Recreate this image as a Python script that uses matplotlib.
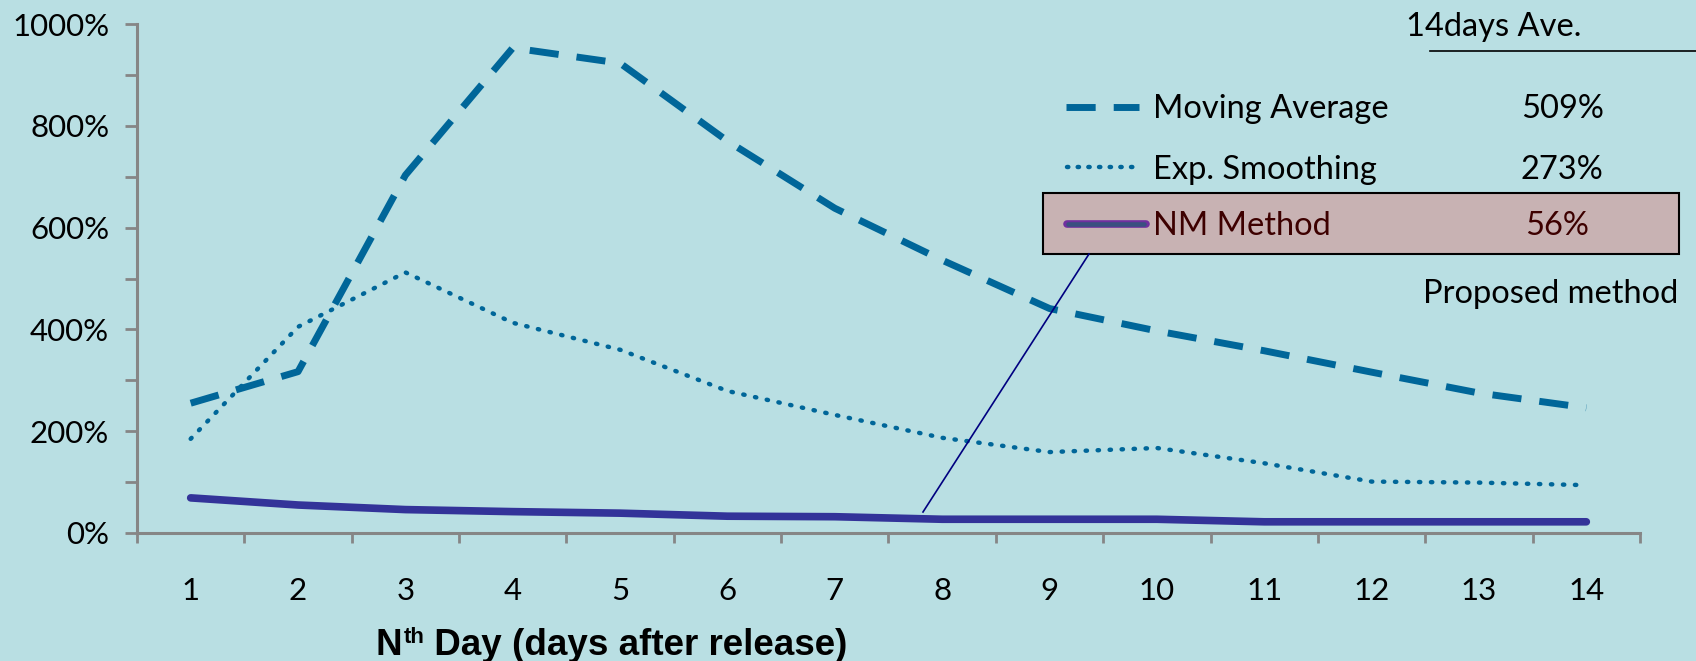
import matplotlib
matplotlib.use("Agg")
import matplotlib.pyplot as plt
from matplotlib.lines import Line2D
from matplotlib.patches import Rectangle
from matplotlib.ticker import FixedLocator, FuncFormatter

# ---- data -------------------------------------------------------------
days = list(range(1, 15))
moving_average = [255, 317, 703, 953, 923, 770, 638, 536, 441, 397, 358, 316, 275, 246]
exp_smoothing = [185, 405, 512, 413, 360, 279, 232, 187, 159, 167, 137, 101, 99, 94]
nm_method = [69, 55, 46, 42, 39, 33, 32, 27, 27, 27, 22, 22, 22, 22]

series_names = ["Moving Average", "Exp. Smoothing", "NM Method"]
series_avg = ["509%", "273%", "56%"]
y_major = [0, 200, 400, 600, 800, 1000]
y_minor = [100, 300, 500, 700, 900]

# ---- style ------------------------------------------------------------
W, H = 1696, 661
BG = "#B9DFE3"
DASH_C = "#006699"
NM_C = "#333399"
AXIS_C = "#868686"
FONT = "Lato"
TICK_FS = 22.5
LEG_FS = 23.5
DOTS = (0.3, 2.4)

fig = plt.figure(figsize=(W / 100, H / 100), dpi=100, facecolor=BG)


def fx(px):
    return px / W


def fy(py):
    return 1 - py / H


ax = fig.add_axes([fx(137), fy(533), fx(1640) - fx(137), fy(24) - fy(533)])
ax.set_facecolor(BG)

ax.plot(days, moving_average, color=DASH_C, lw=5, dashes=(4.2, 2.6),
        dash_capstyle="butt", solid_joinstyle="round")
ax.plot(days, exp_smoothing, color=DASH_C, lw=3.2, dashes=DOTS,
        dash_capstyle="round")
ax.plot(days, nm_method, color=NM_C, lw=5.5, solid_capstyle="round",
        solid_joinstyle="round")

ax.set_xlim(0.5, 14.5)
ax.set_ylim(0, 1000)

for side in ("top", "right"):
    ax.spines[side].set_visible(False)
for side in ("left", "bottom"):
    ax.spines[side].set_color(AXIS_C)
    ax.spines[side].set_linewidth(2.2)

# y axis: ticks every 100, labels every 200
ax.yaxis.set_major_locator(FixedLocator(y_major))
ax.yaxis.set_minor_locator(FixedLocator(y_minor))
ax.yaxis.set_major_formatter(FuncFormatter(lambda v, p: f"{int(v)}%"))
ax.tick_params(axis="y", which="both", direction="out", length=8.5,
               width=2, color=AXIS_C, pad=11.5)

# x axis: labels centred on categories, tick marks between categories
ax.xaxis.set_major_locator(FixedLocator(days))
ax.xaxis.set_minor_locator(FixedLocator([d - 0.5 for d in days] + [14.5]))
ax.tick_params(axis="x", which="major", length=0, pad=32)
ax.tick_params(axis="x", which="minor", direction="out", length=7,
               width=2, color=AXIS_C)

for lab in ax.get_xticklabels() + ax.get_yticklabels():
    lab.set_fontfamily(FONT)
    lab.set_fontsize(TICK_FS)
    lab.set_color("black")

# ---- legend table -------------------------------------------------------
fig.text(fx(1406), fy(36), "14days Ave.", fontsize=LEG_FS, family=FONT,
         va="baseline", ha="left")
fig.add_artist(Line2D([fx(1430), fx(1696)], [fy(50.7), fy(50.7)],
                      color="black", lw=1.2, transform=fig.transFigure))

fig.add_artist(Rectangle((fx(1043), fy(254)), fx(1679) - fx(1043),
                         fy(193) - fy(254), transform=fig.transFigure,
                         facecolor="#C8B2B3", edgecolor="black", lw=1.5))

row_base = [118, 179, 235]
row_mid = [107, 167, 224]
# legend samples
fig.add_artist(Line2D([fx(1066), fx(1139)], [fy(row_mid[0])] * 2, color=DASH_C,
                      lw=5, dashes=(4.2, 2.6), transform=fig.transFigure))
fig.add_artist(Line2D([fx(1067), fx(1139)], [fy(row_mid[1])] * 2, color=DASH_C,
                      lw=3.2, dashes=(0.3, 2.1), dash_capstyle="round",
                      transform=fig.transFigure))
fig.add_artist(Line2D([fx(1067), fx(1146)], [fy(row_mid[2])] * 2, color="#7030A0",
                      lw=5.5, solid_capstyle="round", transform=fig.transFigure))
fig.add_artist(Line2D([fx(1068), fx(1144)], [fy(row_mid[2])] * 2, color="#3A5080",
                      lw=3.3, solid_capstyle="round", transform=fig.transFigure))

name_colors = ["black", "black", "#3D0000"]
avg_x = [1521, 1521, 1525]
for i in range(3):
    fig.text(fx(1153), fy(row_base[i]), series_names[i], fontsize=LEG_FS,
             family=FONT, va="baseline", ha="left", color=name_colors[i])
    fig.text(fx(avg_x[i]), fy(row_base[i]), series_avg[i], fontsize=LEG_FS,
             family=FONT, va="baseline", ha="left", color=name_colors[i])

fig.text(fx(1423), fy(303), "Proposed method", fontsize=LEG_FS, family=FONT,
         va="baseline", ha="left")

# pointer from the highlighted row down to the NM curve
fig.add_artist(Line2D([fx(1089), fx(923)], [fy(254), fy(512)], color="#000080",
                      lw=1.2, transform=fig.transFigure))

# ---- x axis title with superscript -------------------------------------
fig.canvas.draw()
renderer = fig.canvas.get_renderer()
base_y = fy(655)
t1 = fig.text(fx(375), base_y, "N", fontsize=26.5, family="Liberation Sans",
              weight="bold", va="baseline", ha="left")
x1 = t1.get_window_extent(renderer).x1 / W
t2 = fig.text(x1 + fx(2), base_y + 12 / H, "th", fontsize=16,
              family="Liberation Sans", weight="bold", va="baseline", ha="left")
x2 = t2.get_window_extent(renderer).x1 / W
fig.text(x2, base_y, " Day (days after release)", fontsize=26.5,
         family="Liberation Sans", weight="bold", va="baseline", ha="left")

fig.savefig("out.png", dpi=100, facecolor=BG)
